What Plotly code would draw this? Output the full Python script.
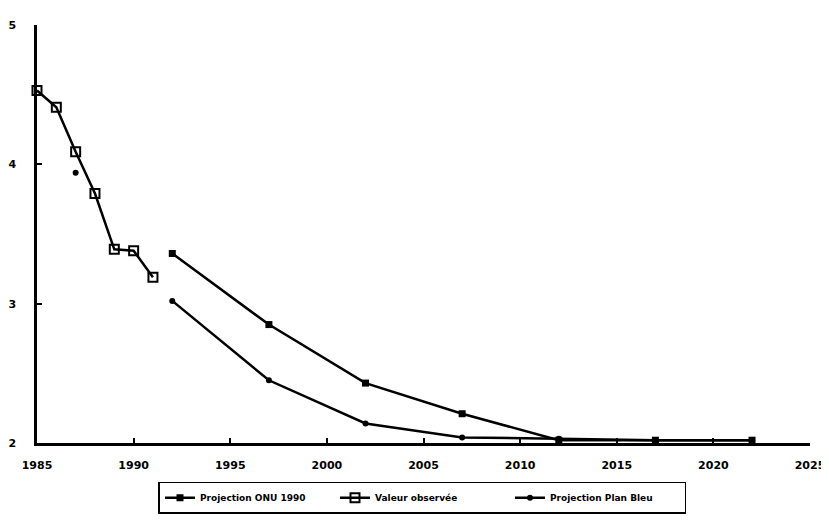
import plotly.graph_objects as go

years_obs = [1985, 1986, 1987, 1988, 1989, 1990, 1991]
obs_values = [4.53, 4.41, 4.09, 3.79, 3.39, 3.38, 3.19]

years_onu = [1992, 1997, 2002, 2007, 2012, 2017, 2022]
onu_values = [3.36, 2.85, 2.43, 2.21, 2.02, 2.02, 2.02]

years_pb = [1987, None, 1992, 1997, 2002, 2007, 2012, 2017, 2022]
pb_values = [3.94, None, 3.02, 2.45, 2.14, 2.04, 2.03, 2.02, 2.02]

x_ticks = [1985, 1990, 1995, 2000, 2005, 2010, 2015, 2020, 2025]
y_ticks = [2, 3, 4, 5]

font_fam = "DejaVu Sans, Liberation Sans, Arial, sans-serif"

fig = go.Figure()
fig.add_trace(go.Scatter(
    x=years_onu, y=onu_values, name="Projection ONU 1990", mode="lines+markers",
    line=dict(color="black", width=2.5),
    marker=dict(symbol="square", size=7, color="black"),
    cliponaxis=False,
))
fig.add_trace(go.Scatter(
    x=years_obs, y=obs_values, name="Valeur observée", mode="lines+markers",
    line=dict(color="black", width=2.5),
    marker=dict(symbol="square-open", size=9, color="black", line=dict(width=2)),
    cliponaxis=False,
))
fig.add_trace(go.Scatter(
    x=years_pb, y=pb_values, name="Projection Plan Bleu", mode="lines+markers",
    line=dict(color="black", width=2.5),
    marker=dict(symbol="circle", size=6, color="black"),
    connectgaps=False, cliponaxis=False,
))

fig.update_layout(
    width=829, height=523,
    margin=dict(l=29, r=27, t=17, b=88),
    paper_bgcolor="white", plot_bgcolor="white",
    font=dict(family=font_fam, color="black", size=10),
    showlegend=True,
    legend=dict(
        orientation="h", x=0.4987, xanchor="center", y=-0.093, yanchor="top",
        bordercolor="black", borderwidth=1.5, bgcolor="white",
        font=dict(size=9, family=font_fam, weight="bold"),
        entrywidth=130, itemwidth=30,
    ),
    xaxis=dict(
        range=[1985, 2025], tickvals=x_ticks, ticktext=[str(v) for v in x_ticks],
        showline=True, linecolor="black", linewidth=2.5, ticks="inside",
        ticklen=5, tickwidth=1.5, tickcolor="black", showgrid=False, zeroline=False,
        tickfont=dict(size=11, weight="bold"), ticklabelstandoff=10,
        automargin=False,
    ),
    yaxis=dict(
        range=[2, 5], tickvals=y_ticks, ticktext=[str(v) for v in y_ticks],
        showline=True, linecolor="black", linewidth=2.5, ticks="inside",
        ticklen=5, tickwidth=1.5, tickcolor="black", showgrid=False, zeroline=False,
        tickfont=dict(size=11, weight="bold"), ticklabelstandoff=16,
        automargin=False,
    ),
)

fig.write_html("out.html")
